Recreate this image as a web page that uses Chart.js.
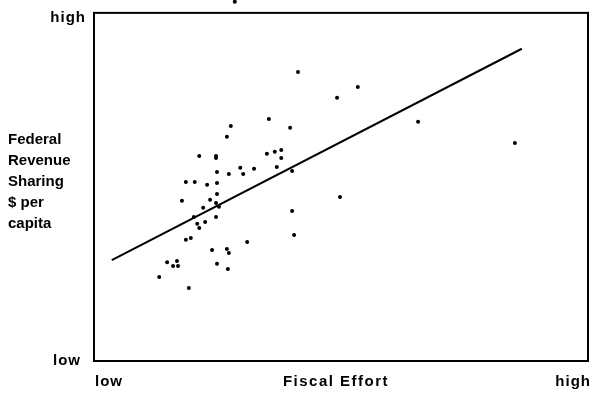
<!DOCTYPE html>
<html>
<head>
<meta charset="utf-8">
<script src="https://cdn.jsdelivr.net/npm/chart.js@4/dist/chart.umd.min.js"></script>
<style>
  html, body { margin: 0; padding: 0; background: #fff; }
  #wrap { width: 592px; height: 396px; }
</style>
</head>
<body>
<div id="wrap"><canvas id="scatterChart" width="592" height="396"></canvas></div>
<script>
// Fiscal effort (x) and revenue sharing per capita (y), on a 0-100 low..high scale
const effortValues = [
  35.4, 39.7, 27.7, 26.9, 21.3, 24.7, 24.7, 35.0, 36.6, 37.9,
  37.9, 37.0, 29.6, 30.2, 32.4, 27.3, 24.9, 18.6, 20.4, 22.9,
  24.9, 24.9, 17.8, 23.5, 24.7, 22.1, 25.3, 24.7, 20.2, 22.5,
  20.9, 21.3, 40.1, 40.1, 40.5, 18.6, 19.6, 31.0, 23.9, 26.9,
  27.3, 14.8, 16.8, 16.0, 17.0, 24.9, 27.1, 13.2, 19.2, 41.3,
  53.4, 49.2, 65.6, 85.2, 49.8, 28.5
];
const sharingValues = [
  69.5, 67.0, 67.5, 64.4, 58.9, 58.9, 58.3, 59.5, 60.1, 60.6,
  58.3, 55.7, 55.5, 53.7, 55.2, 53.7, 54.3, 51.4, 51.4, 50.6,
  51.1, 48.0, 46.0, 46.3, 45.4, 44.0, 44.3, 41.4, 41.4, 39.9,
  39.4, 38.2, 54.6, 43.1, 36.2, 34.8, 35.3, 34.2, 31.9, 32.2,
  31.0, 28.4, 28.7, 27.3, 27.3, 27.9, 26.4, 24.1, 21.0, 83.0,
  78.7, 75.6, 68.7, 62.6, 47.1, 103.2
];

// regression line end points
const trendX = [3.6, 86.6];
const trendY = [29.0, 89.7];

// axis words
const axisLow = 'low';
const axisHigh = 'high';
const xTitle = 'Fiscal Effort';
const yTitleLines = ['Federal', 'Revenue', 'Sharing', '$ per', 'capita'];

const points = effortValues.map((x, i) => ({ x: x, y: sharingValues[i] }));
const trend = trendX.map((x, i) => ({ x: x, y: trendY[i] }));

// frame (0..100 box) and labels drawn round the plot area
const framePlugin = {
  id: 'frameLabels',
  afterDraw: (chart) => {
    const { ctx, chartArea: { left, right } } = chart;
    const yScale = chart.scales.y;
    const top = yScale.getPixelForValue(100);
    const bottom = yScale.getPixelForValue(0);
    ctx.save();
    ctx.strokeStyle = '#000';
    ctx.lineWidth = 2;
    ctx.strokeRect(left, top, right - left, bottom - top);

    ctx.fillStyle = '#000';
    ctx.font = 'bold 15px "Liberation Sans", Arial, sans-serif';
    ctx.textBaseline = 'middle';

    // y title
    ctx.textAlign = 'left';
    yTitleLines.forEach((t, i) => {
      ctx.fillText(t, 8, 140 + i * 21);
    });

    ctx.letterSpacing = '1px';
    // y axis ends
    ctx.textAlign = 'right';
    ctx.fillText(axisHigh, left - 8, top + 5);
    ctx.fillText(axisLow, left - 13, bottom);

    // x axis labels
    const yx = bottom + 21;
    ctx.textAlign = 'left';
    ctx.fillText(axisLow, left + 1, yx);
    ctx.textAlign = 'right';
    ctx.fillText(axisHigh, right + 3, yx);
    ctx.textAlign = 'center';
    ctx.letterSpacing = '1.5px';
    ctx.fillText(xTitle, 336, yx);
    ctx.restore();
  }
};

new Chart(document.getElementById('scatterChart').getContext('2d'), {
  type: 'scatter',
  plugins: [framePlugin],
  data: {
    datasets: [
      {
        label: 'Counties',
        data: points,
        backgroundColor: '#000',
        borderColor: '#000',
        pointRadius: 2,
        pointBorderWidth: 0,
        clip: false
      },
      {
        label: 'Trend',
        data: trend,
        showLine: true,
        borderColor: '#000',
        borderWidth: 2,
        pointRadius: 0
      }
    ]
  },
  options: {
    responsive: false,
    animation: false,
    layout: { autoPadding: false, padding: { left: 94, top: 0, right: 4, bottom: 35 } },
    plugins: {
      legend: { display: false },
      tooltip: { enabled: false }
    },
    scales: {
      x: { type: 'linear', min: 0, max: 100, display: false },
      // headroom above "high" for the one point drawn over the frame
      y: { type: 'linear', min: 0, max: 103.7, display: false }
    }
  }
});
</script>
</body>
</html>
